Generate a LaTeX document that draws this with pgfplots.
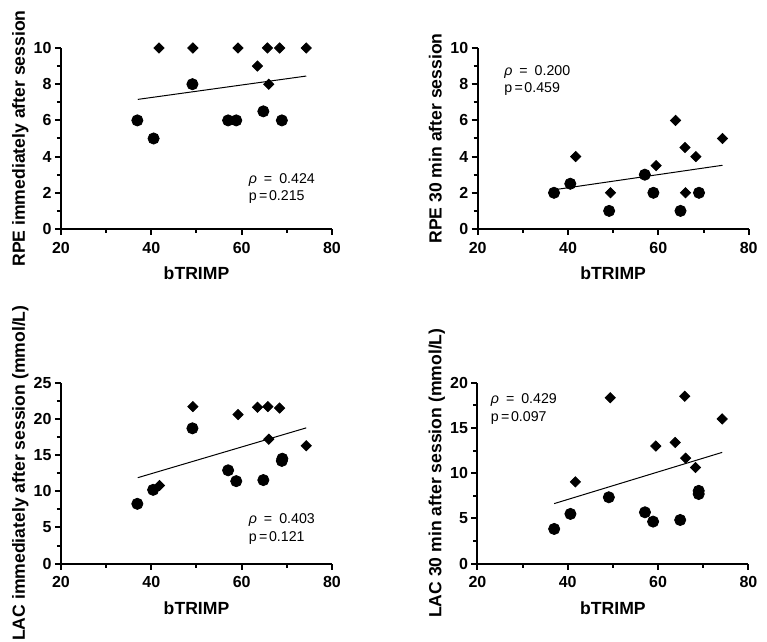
\documentclass[border=0pt]{standalone}
\usepackage{pgfplots}
\pgfplotsset{compat=1.18}
\usepackage{fontspec}
\setmainfont{Liberation Sans}
\pgfplotsset{
 panel/.style={
  scale only axis, width=135.5pt, height=90.5pt,
  axis lines=left, axis line style={line width=1pt, -},
  xmin=20, xmax=80, xtick={20,40,60,80}, minor xtick={30,50,70},
  ymin=0,
  tick style={line width=1pt, black}, tick align=outside,
  major tick length=3pt, minor tick length=2pt,
  ticklabel style={font=\bfseries\fontsize{8}{9}\selectfont},
  yticklabel style={xshift=1.8pt},
  /pgf/number format/assume math mode=true,
  xlabel={bTRIMP},
  label style={font=\bfseries\fontsize{8.8}{10}\selectfont},
  xlabel style={at={([yshift=-25.5pt]axis description cs:0.5,0)}, anchor=base},
  ylabel style={at={([xshift=-18pt]axis description cs:0,0.5)}, anchor=base},
  clip=false,
 },
 circ/.style={only marks, mark=*, mark size=2.8pt, black},
 diam/.style={only marks, mark=square*, mark size=1.8pt, mark options={rotate=45}, black},
 reg/.style={no marks, black, line width=0.5pt},
}
\tikzset{ann/.style={anchor=base west, font=\fontsize{7.1}{8}\selectfont, inner sep=0pt}}
\begin{document}
\begin{tikzpicture}
\useasboundingbox (0pt,0pt) rectangle (383.5pt,321pt);
% Panel 1
\begin{axis}[panel, at={(30.5pt,206.5pt)}, anchor=origin, ymax=10, ytick={0,2,4,6,8,10}, minor ytick={1,3,5,7,9},
  ylabel={RPE immediately after session}]
\addplot[reg] coordinates {(37,7.16) (74.3,8.45)};
\addplot[circ] coordinates {(36.9,6) (40.5,5) (49.1,8) (57.0,6) (58.8,6) (64.8,6.5) (68.9,6)};
\addplot[diam] coordinates {(41.7,10) (49.2,10) (59.2,10) (63.5,9) (65.7,10) (66.0,8) (68.4,10) (74.3,10)};
\node[ann] at (axis cs:61.5,2.52) {{\itshape ρ}\hspace{3.5pt}=\hspace{3.5pt}0.424};
\node[ann] at (axis cs:61.5,1.56) {p\hspace{1.2pt}=\hspace{0.8pt}0.215};
\end{axis}
% Panel 2
\begin{axis}[panel, at={(238.85pt,206.5pt)}, anchor=origin, ymax=10, ytick={0,2,4,6,8,10}, minor ytick={1,3,5,7,9},
  ylabel={RPE 30 min after session}]
\addplot[reg] coordinates {(37,2.17) (74.2,3.52)};
\addplot[circ] coordinates {(36.9,2) (40.5,2.5) (49.1,1) (57.0,3) (58.9,2) (64.9,1) (69.0,2)};
\addplot[diam] coordinates {(41.7,4) (49.4,2) (59.5,3.5) (63.8,6) (65.9,4.5) (66.0,2) (68.3,4) (74.2,5)};
\node[ann] at (axis cs:25.8,8.5) {{\itshape ρ}\hspace{3.5pt}=\hspace{3.5pt}0.200};
\node[ann] at (axis cs:25.8,7.54) {p\hspace{1.2pt}=\hspace{0.8pt}0.459};
\end{axis}
% Panel 3
\begin{axis}[panel, at={(30.5pt,39.15pt)}, anchor=origin, ymax=25, ytick={0,5,10,15,20,25}, minor ytick={2.5,7.5,12.5,17.5,22.5},
  ylabel={LAC immediately after session (mmol/L)}]
\addplot[reg] coordinates {(37,11.88) (74.3,18.76)};
\addplot[circ] coordinates {(36.9,8.27) (40.4,10.2) (49.1,18.7) (57.0,12.9) (58.8,11.4) (64.8,11.55) (68.9,14.2) (69.0,14.5)};
\addplot[diam] coordinates {(41.8,10.8) (49.2,21.7) (59.2,20.6) (63.5,21.6) (65.8,21.7) (66.0,17.2) (68.4,21.5) (74.3,16.3)};
\node[ann] at (axis cs:61.5,5.5) {{\itshape ρ}\hspace{3.5pt}=\hspace{3.5pt}0.403};
\node[ann] at (axis cs:61.5,3.1) {p\hspace{1.2pt}=\hspace{0.8pt}0.121};
\end{axis}
% Panel 4
\begin{axis}[panel, at={(238.7pt,39.15pt)}, anchor=origin, ymax=20, ytick={0,5,10,15,20}, minor ytick={2.5,7.5,12.5,17.5},
  ylabel={LAC 30 min after session (mmol/L)}]
\addplot[reg] coordinates {(37,6.64) (74.2,12.3)};
\addplot[circ] coordinates {(37.0,3.84) (40.6,5.5) (49.1,7.34) (57.1,5.68) (58.9,4.65) (64.9,4.83) (69.0,7.7) (69.0,8.05)};
\addplot[diam] coordinates {(41.7,9.04) (49.4,18.34) (59.5,13.0) (63.8,13.4) (65.9,18.5) (66.1,11.66) (68.3,10.63) (74.2,16.0)};
\node[ann] at (axis cs:22.9,17.65) {{\itshape ρ}\hspace{3.5pt}=\hspace{3.5pt}0.429};
\node[ann] at (axis cs:22.9,15.7) {p\hspace{1.2pt}=\hspace{0.8pt}0.097};
\end{axis}
\end{tikzpicture}
\end{document}
